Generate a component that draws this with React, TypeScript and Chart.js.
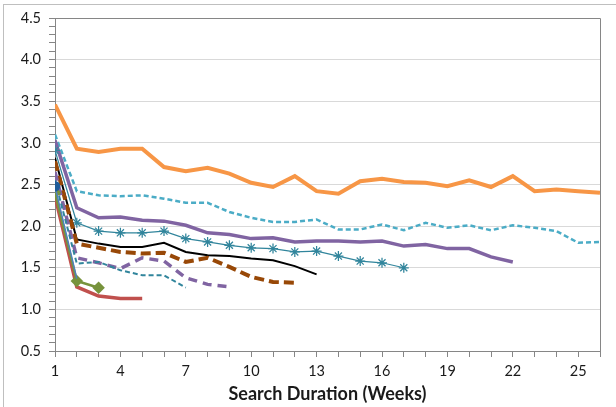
import React, { useEffect, useRef } from "react";
import { Chart, registerables } from "chart.js";

Chart.register(...registerables);

const weeks = Array.from({ length: 26 }, (_, i) => i + 1);

const orange = [3.46, 2.93, 2.89, 2.93, 2.93, 2.71, 2.66, 2.70, 2.63, 2.52, 2.47, 2.60, 2.42, 2.39, 2.54, 2.57, 2.53, 2.52, 2.48, 2.55, 2.47, 2.60, 2.42, 2.44, 2.42, 2.40];
const lightBlueDashed = [3.10, 2.42, 2.37, 2.36, 2.37, 2.33, 2.28, 2.28, 2.17, 2.10, 2.05, 2.05, 2.08, 1.96, 1.96, 2.02, 1.95, 2.04, 1.98, 2.01, 1.95, 2.01, 1.98, 1.94, 1.80, 1.81];
const purpleSolid = [3.03, 2.22, 2.10, 2.11, 2.07, 2.06, 2.01, 1.92, 1.90, 1.85, 1.86, 1.81, 1.82, 1.82, 1.81, 1.82, 1.76, 1.78, 1.73, 1.73, 1.63, 1.57];
const tealStar = [2.91, 2.04, 1.94, 1.92, 1.92, 1.94, 1.85, 1.81, 1.77, 1.74, 1.73, 1.69, 1.70, 1.64, 1.58, 1.56, 1.50];
const blackLine = [2.82, 1.84, 1.79, 1.75, 1.75, 1.80, 1.69, 1.65, 1.64, 1.61, 1.59, 1.52, 1.42];
const brownDashed = [2.78, 1.79, 1.74, 1.69, 1.67, 1.68, 1.57, 1.62, 1.51, 1.39, 1.33, 1.32];
const purpleDashed = [2.65, 1.62, 1.56, 1.49, 1.62, 1.58, 1.38, 1.30, 1.27];
const tealDashed = [2.55, 1.55, 1.57, 1.47, 1.41, 1.41, 1.26];
const greenDiamond = [2.40, 1.34, 1.26];
const redLine = [2.36, 1.27, 1.16, 1.13, 1.13];
const blueDot = [2.48, 1.37];

const yTickValues = [0.5, 1.0, 1.5, 2.0, 2.5, 3.0, 3.5, 4.0, 4.5];
const xLabelEvery = 3;

const toPoints = (vals: number[]) => vals.map((v, i) => ({ x: weeks[i], y: v }));

const borderPlugin = {
  id: "borders",
  beforeDraw(chart: any) {
    const ctx = chart.ctx;
    ctx.save();
    ctx.fillStyle = "#ffffff";
    ctx.fillRect(0, 0, chart.width, chart.height);
    ctx.strokeStyle = "#bfbfbf";
    ctx.lineWidth = 1;
    ctx.strokeRect(3.5, 4.5, 800, 600);
    ctx.restore();
  },
  afterDatasetsDraw(chart: any) {
    const { ctx, chartArea } = chart;
    ctx.save();
    ctx.strokeStyle = "#868686";
    ctx.lineWidth = 1;
    ctx.beginPath();
    ctx.moveTo(Math.round(chartArea.left) + 0.5, Math.round(chartArea.top) + 0.5);
    ctx.lineTo(Math.round(chartArea.right) + 0.5, Math.round(chartArea.top) + 0.5);
    ctx.lineTo(Math.round(chartArea.right) + 0.5, Math.round(chartArea.bottom) + 0.5);
    ctx.stroke();
    ctx.restore();
  },
};

export default function App() {
  const ref = useRef<HTMLCanvasElement | null>(null);

  useEffect(() => {
    document.body.style.margin = "0";
    const canvas = ref.current;
    if (!canvas) return;
    const line = (vals: number[], color: string, width: number, dash: number[] = [], extra: any = {}) => ({
      data: toPoints(vals),
      borderColor: color,
      backgroundColor: color,
      borderWidth: width,
      borderDash: dash,
      pointRadius: 0,
      tension: 0,
      fill: false,
      ...extra,
    });
    const chart = new Chart(canvas, {
      type: "line",
      data: {
        datasets: [
          line(blueDot, "#4F81BD", 1.5, [], { pointRadius: [4.5, 0], pointStyle: "circle", pointBackgroundColor: "#1F5C99", pointBorderColor: "#1F5C99" }),
          line(greenDiamond, "#77933C", 2.5, [], { pointRadius: 4.5, pointStyle: "rectRot" }),
          line(redLine, "#C0504D", 3.5),
          line(tealDashed, "#31859C", 2, [5, 3]),
          line(purpleDashed, "#8064A2", 3.5, [9, 6]),
          line(brownDashed, "#984807", 4, [10, 5]),
          line(blackLine, "#000000", 2),
          line(tealStar, "#31859C", 1.25, [], { pointRadius: 5, pointStyle: "star", pointBorderWidth: 1.25 }),
          line(purpleSolid, "#8064A2", 3.5),
          line(lightBlueDashed, "#4BACC6", 2.5, [5, 3]),
          line(orange, "#F79646", 4),
        ],
      },
      options: {
        animation: false,
        responsive: false,
        layout: { padding: { left: 0, top: 18, right: 16, bottom: 0 } },
        plugins: { legend: { display: false }, tooltip: { enabled: false } },
        scales: {
          x: {
            type: "linear",
            min: weeks[0],
            max: weeks[weeks.length - 1],
            afterFit: (s: any) => { s.height = 56; },
            ticks: {
              stepSize: 1,
              autoSkip: false,
              maxRotation: 0,
              padding: 6,
              color: "#1a1a1a",
              font: { family: "Lato", size: 14.5 },
              callback: (v: any) => ((Number(v) - weeks[0]) % xLabelEvery === 0 ? String(v) : ""),
            },
            grid: { drawOnChartArea: false, drawTicks: true, tickLength: 6, tickColor: "#868686" },
            border: { color: "#868686" },
            title: {
              display: true,
              text: "Search Duration (Weeks)",
              color: "#1a1a1a",
              font: { family: "Lato", size: 18, weight: "bold" },
              padding: { top: 0, bottom: 2 },
            },
          },
          y: {
            type: "linear",
            min: yTickValues[0],
            max: yTickValues[yTickValues.length - 1],
            afterFit: (s: any) => { s.width = 55; },
            ticks: {
              stepSize: 0.1,
              autoSkip: false,
              padding: 8,
              color: "#1a1a1a",
              font: { family: "Lato", size: 14.5 },
              callback: (v: any) => {
                const n = Number(v);
                return yTickValues.some((t) => Math.abs(t - n) < 1e-6) ? n.toFixed(1) : "";
              },
            },
            grid: {
              tickLength: 6,
              color: (c: any) => {
                const n = c.tick ? c.tick.value : 0;
                return yTickValues.some((t) => Math.abs(t - n) < 1e-6) ? "#d9d9d9" : "rgba(0,0,0,0)";
              },
              tickColor: "#868686",
            },
            border: { color: "#868686" },
          },
        },
      },
      plugins: [borderPlugin],
    } as any);
    return () => chart.destroy();
  }, []);

  return (
    <div style={{ position: "relative", width: 616, height: 407, overflow: "hidden" }}>
      <canvas ref={ref} width={616} height={407} style={{ display: "block", width: 616, height: 407 }} />
    </div>
  );
}
